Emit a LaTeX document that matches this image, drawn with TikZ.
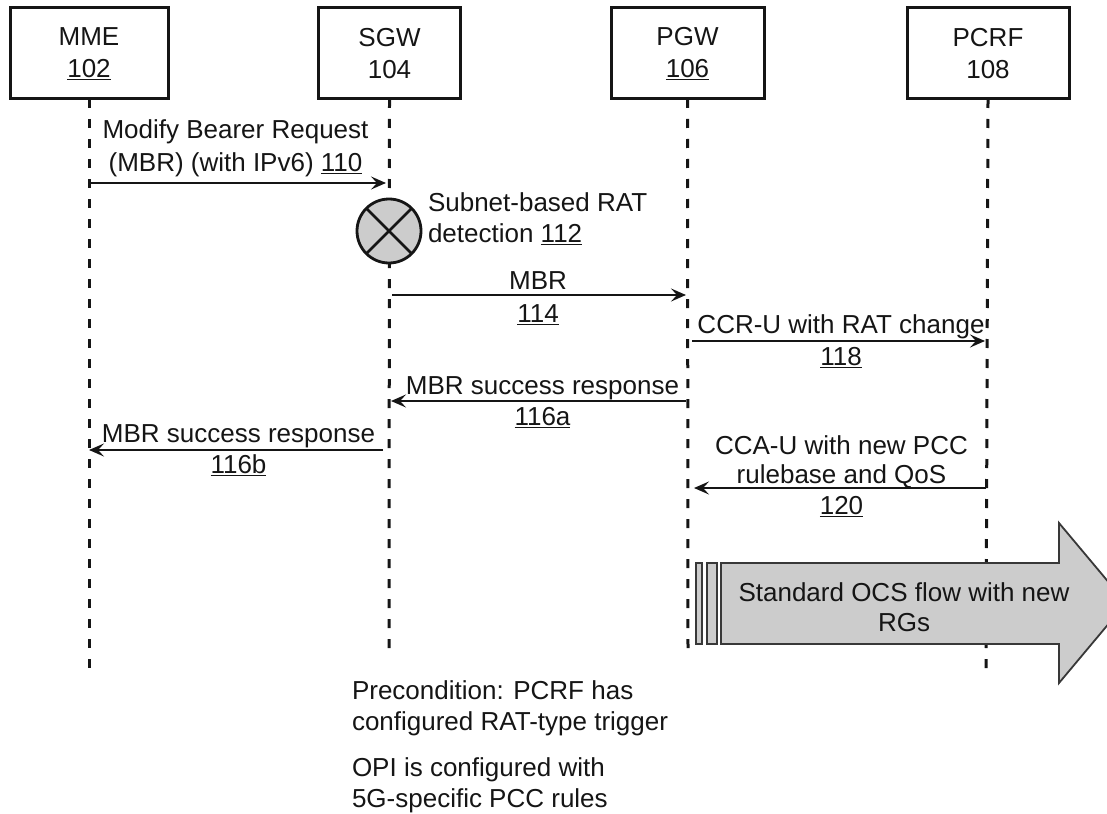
\documentclass[tikz,border=0pt]{standalone}
\usepackage{fontspec}
\setmainfont{Liberation Sans}
\usetikzlibrary{arrows.meta}
\definecolor{boxgray}{HTML}{CCCCCC}
\definecolor{ink}{HTML}{151515}
\begin{document}
\begin{tikzpicture}[x=1pt,y=-1pt,
  every node/.style={font=\fontsize{26}{31}\selectfont, text=ink, inner sep=0pt, outer sep=0pt},
  entity/.style={draw=ink, line width=3pt, minimum height=91pt, align=center},
  lifeline/.style={draw=ink, line width=3pt, dash pattern=on 9pt off 11pt},
  msg/.style={draw=ink, line width=2.5pt, -{Stealth[length=15pt,width=13pt,inset=6pt]}},
  lbl/.style={align=center},
  note/.style={align=left, anchor=west},
  flow/.style={draw=ink!85, line width=1.8pt, fill=boxgray}]
\useasboundingbox (0,0) rectangle (1107,813);
\clip (0,0) rectangle (1107,813);

% entities
\node[entity, minimum width=158pt] (mme)  at (89,53.5)  {MME\\[1pt]\underline{102}};
\node[entity, minimum width=142pt] (sgw)  at (389.5,53.5) {SGW\\[1pt]104};
\node[entity, minimum width=153pt] (pgw)  at (687.5,53.5) {PGW\\[1pt]\underline{106}};
\node[entity, minimum width=162pt] (pcrf) at (988,53.5) {PCRF\\[1pt]108};

% lifeline ends
\coordinate (mmeE)  at (89,676);
\coordinate (sgwE)  at (389,657);
\coordinate (pgwE)  at (688,657);
\coordinate (pcrfE) at (986,677);
\draw[lifeline] (mme.south)  -- (mmeE);
\draw[lifeline] (sgw.south)  -- (sgwE);
\draw[lifeline] (pgw.south)  -- (pgwE);
\draw[lifeline] (pcrf.south) -- (pcrfE);

% message endpoints
\coordinate (a110s) at (91,183);  \coordinate (a110e) at (386,183);
\coordinate (a114s) at (392,295); \coordinate (a114e) at (686,295);
\coordinate (a118s) at (692,341); \coordinate (a118e) at (985,341);
\coordinate (a116as) at (686,401); \coordinate (a116ae) at (391,401);
\coordinate (a116bs) at (383,450); \coordinate (a116be) at (89,450);
\coordinate (a120s) at (986,488); \coordinate (a120e) at (694,488);

\draw[msg] (a110s) -- (a110e);
\draw[msg] (a114s) -- (a114e);
\draw[msg] (a118s) -- (a118e);
\draw[msg] (a116as) -- (a116ae);
\draw[msg] (a116bs) -- (a116be);
\draw[msg] (a120s) -- (a120e);

% labels
\node[lbl] (l110) at (235.5,148) {Modify Bearer Request\\[2pt](MBR) (with IPv6) \underline{110}};
\node[lbl] (l114) at (538,298) {MBR\\[2pt]\underline{114}};
\node[lbl] (l118) at (841,341) {CCR-U with RAT change\\[1pt]\underline{118}};
\node[lbl] (l116a) at (542.5,402) {MBR success response\\\underline{116a}};
\node[lbl] (l116b) at (238.5,450) {MBR success response\\\underline{116b}};
\node[lbl] (l120) at (841.5,476) {CCA-U with new PCC\\[-2pt]rulebase and QoS\\\underline{120}};

% RAT detection
\node[circle, draw=ink, line width=2.8pt, fill=boxgray, minimum size=64pt] (det) at (389,231) {};
\draw[ink, line width=2.8pt] (det.north west) -- (det.south east);
\draw[ink, line width=2.8pt] (det.north east) -- (det.south west);
\node[note] (l112) at (428,219) {Subnet-based RAT\\detection \underline{112}};

% OCS flow arrow
\draw[flow] (696,563) rectangle (702,644);
\draw[flow] (707,563) rectangle (717,644);
\draw[flow] (721,563) -- (1059,563) -- (1059,523) -- (1126,603) -- (1059,683) -- (1059,644) -- (721,644) -- cycle;
\node[lbl] (ocs) at (904,607) {Standard OCS flow with new\\[-1pt]RGs};

% notes
\node[note] (pre) at (352,708) {Precondition: PCRF has\\configured RAT-type trigger};
\node[note] (opi) at (352,785) {OPI is configured with\\5G-specific PCC rules};
\end{tikzpicture}
\end{document}
